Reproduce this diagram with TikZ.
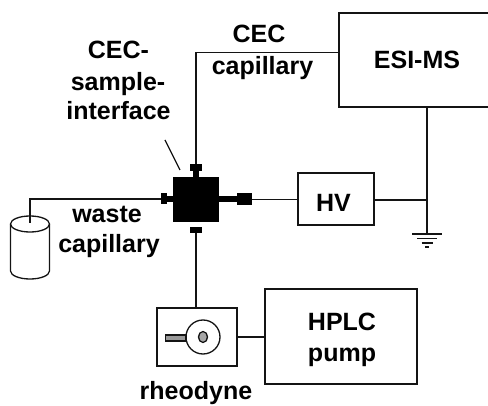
\documentclass[tikz,border=0pt]{standalone}
\usepackage{fontspec}
\setmainfont{Liberation Sans}
\usetikzlibrary{positioning, calc}
\definecolor{inkblack}{RGB}{20, 20, 20}
\tikzset{
    unitbox/.style={draw=inkblack, line width=1.7pt, inner sep=0pt, outer sep=0pt},
    wire/.style={draw=inkblack, line width=1.3pt},
    fatwire/.style={draw=inkblack, line width=2.2pt},
    fitting/.style={fill=black, inner sep=0pt, outer sep=0pt},
    lbl/.style={font=\fontsize{25}{25}\selectfont\bfseries, text=black, inner sep=0pt, anchor=base}
}
\begin{document}
\begin{tikzpicture}[x=1pt, y=-1pt]
    \useasboundingbox (0,0) rectangle (488,406);
    % Boxes
    \node[unitbox, minimum width=161pt, minimum height=94pt] (esims) at (419.5,60) {};
    \node[unitbox, minimum width=76pt, minimum height=52.5pt] (hv) at (336,199) {};
    \node[unitbox, minimum width=152pt, minimum height=95pt] (hplc) at (341,336.5) {};
    \node[unitbox, minimum width=80pt, minimum height=58pt] (rheodyne) at (197,337) {};
    % Interface cross
    \node[fitting, minimum width=46pt, minimum height=45pt] (cross) at (196,199.5) {};
    \node[fitting, minimum width=6pt, minimum height=6pt] (stubtop) at (196,174) {};
    \node[fitting, minimum width=12pt, minimum height=7pt] (captop) at (196,167.5) {};
    \node[fitting, minimum width=12pt, minimum height=6pt] (capbottom) at (196,230) {};
    \node[fitting, minimum width=8pt, minimum height=6pt] (stubleft) at (169,199) {};
    \node[fitting, minimum width=6pt, minimum height=11pt] (capleft) at (164,199) {};
    \node[fitting, minimum width=18pt, minimum height=6pt] (stubright) at (228,199) {};
    \node[fitting, minimum width=15pt, minimum height=12pt] (capright) at (244.5,199.5) {};
    % Free ends
    \coordinate (elbowtop) at (196,52.5);
    \coordinate (elbowwaste) at (30,199);
    \coordinate (waste) at (30,223);
    \coordinate (gnd) at (427,234);
    \coordinate (leader) at (165,140);
    \coordinate (leaderend) at (180,170);
    % Connectors
    \draw[wire] (captop) -- (elbowtop) -- (elbowtop -| esims.west);
    \draw[wire] (capleft) -- (elbowwaste) -- (waste);
    \draw[wire] (capright) -- (capright -| hv.west);
    \draw[wire] (capbottom) -- (capbottom |- rheodyne.north);
    \draw[wire] (rheodyne) -- (rheodyne -| hplc.west);
    \draw[wire] (esims.south -| gnd) -- (gnd);
    \draw[fatwire] (hv.east |- 0,200) -- (gnd |- 0,200);
    \draw[wire] (leader) -- (leaderend);
    % Ground symbol
    \foreach \halfw/\dy/\lw in {15/0/2.2, 10/4.5/1.8, 5.5/9/1.6, 2/13/2} {
        \draw[inkblack, line width=\lw pt] ($(gnd)+(-\halfw,\dy)$) -- ($(gnd)+(\halfw,\dy)$);
    }
    % Waste vial
    \draw[inkblack, line width=1.3pt] (30,224) ellipse (19.5 and 8);
    \draw[inkblack, line width=1.3pt] (10.5,224) -- (10.5,271)
        arc[start angle=180, end angle=0, x radius=19.5, y radius=8] -- (49.5,224);
    % Valve
    \draw[inkblack, line width=1.3pt] (203,337) circle (17);
    \draw[inkblack, line width=1.3pt, fill=black!35] (203,337) ellipse (4.5 and 5.5);
    \draw[inkblack, line width=1.3pt, fill=black!40] (165.5,335) rectangle (186,341);
    % Labels
    \node[lbl] (lblifacea) at (118.5,59) {CEC-};
    \node[lbl] (lblifaceb) at (118,91) {sample-};
    \node[lbl] (lblifacec) at (118.5,120) {interface};
    \node[lbl] (lblcapa) at (259,43) {CEC};
    \node[lbl] (lblcapb) at (262.5,75) {capillary};
    \node[lbl] (lblesi) at (417,68.5) {ESI-MS};
    \node[lbl] (lblhv) at (333.5,212) {HV};
    \node[lbl] (lblwastea) at (107,223) {waste};
    \node[lbl] (lblwasteb) at (109,253) {capillary};
    \node[lbl] (lblhplca) at (342,331) {HPLC};
    \node[lbl] (lblhplcb) at (342,362) {pump};
    \node[lbl] (lblrheo) at (196,400) {rheodyne};
\end{tikzpicture}
\end{document}
